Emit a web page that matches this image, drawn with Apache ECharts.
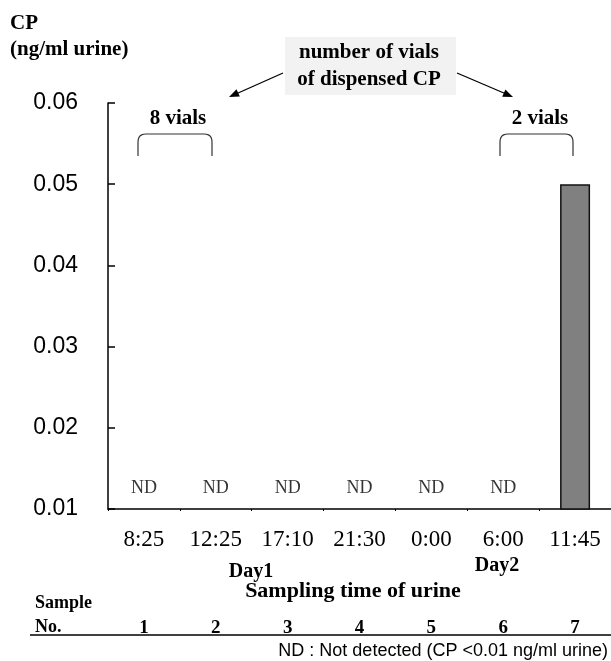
<!DOCTYPE html>
<html>
<head>
<meta charset="utf-8">
<script src="https://cdn.jsdelivr.net/npm/echarts@6/dist/echarts.min.js"></script>
<style>html,body{margin:0;padding:0;background:#fff;}#c{width:611px;height:661px;}</style>
</head>
<body>
<div id="c"></div>
<script>
// Data
var times = ['8:25', '12:25', '17:10', '21:30', '0:00', '6:00', '11:45'];
var sampleNos = ['1', '2', '3', '4', '5', '6', '7'];
var cpValues = [null, null, null, null, null, null, 0.05];
var detected = [false, false, false, false, false, false, true];
var yTicks = [0.01, 0.02, 0.03, 0.04, 0.05, 0.06];

var SERIF = 'Liberation Serif, Times New Roman, serif';
var SANS = 'Liberation Sans, Arial, sans-serif';

var ndData = [];
for (var i = 0; i < times.length; i++) {
  if (!detected[i]) ndData.push([times[i], yTicks[0]]);
}

function bracket(x1, x2, yTop, yBot, r) {
  var pts = [[x1, yBot], [x1, yTop + r]];
  var n = 6, k, t;
  for (k = 1; k <= n; k++) {
    t = k / n;
    pts.push([
      (1 - t) * (1 - t) * x1 + 2 * (1 - t) * t * x1 + t * t * (x1 + r),
      (1 - t) * (1 - t) * (yTop + r) + 2 * (1 - t) * t * yTop + t * t * yTop
    ]);
  }
  pts.push([x2 - r, yTop]);
  for (k = 1; k <= n; k++) {
    t = k / n;
    pts.push([
      (1 - t) * (1 - t) * (x2 - r) + 2 * (1 - t) * t * x2 + t * t * x2,
      (1 - t) * (1 - t) * yTop + 2 * (1 - t) * t * yTop + t * t * (yTop + r)
    ]);
  }
  pts.push([x2, yBot]);
  return pts;
}

var chart = echarts.init(document.getElementById('c'), null, {renderer: 'canvas'});
chart.setOption({
  animation: false,
  backgroundColor: '#ffffff',
  grid: {left: 108, right: -1, top: 103, bottom: 152, containLabel: false},
  xAxis: [{
    type: 'category',
    data: times,
    axisLine: {lineStyle: {color: '#000', width: 1.5}},
    axisTick: {show: true, length: 2, lineStyle: {color: '#000'}},
    axisLabel: {fontFamily: SERIF, fontSize: 23, color: '#000', margin: 19, interval: 0}
  }, {
    type: 'category',
    data: sampleNos,
    position: 'bottom',
    offset: 110,
    axisLine: {show: false},
    axisTick: {show: false},
    axisLabel: {fontFamily: SERIF, fontSize: 19, fontWeight: 'bold', color: '#000', margin: 0, interval: 0}
  }],
  yAxis: {
    type: 'value',
    min: yTicks[0],
    max: yTicks[yTicks.length - 1],
    interval: 0.01,
    splitLine: {show: false},
    axisLine: {show: true, lineStyle: {color: '#000', width: 1.5}},
    axisTick: {show: true, inside: true, length: 7, lineStyle: {color: '#000', width: 1.5}},
    axisLabel: {fontFamily: SANS, fontSize: 23, color: '#000', margin: 30,
      formatter: function (v) { return v.toFixed(2); }}
  },
  series: [{
    type: 'bar',
    data: cpValues,
    barWidth: 30,
    itemStyle: {color: '#808080', borderColor: '#111', borderWidth: 1.5}
  }, {
    type: 'scatter',
    data: ndData,
    symbolSize: 0,
    label: {show: true, position: 'top', distance: 12, formatter: 'ND',
      fontFamily: SERIF, fontSize: 18, color: '#000'}
  }],
  graphic: [
    {type: 'text', x: 10, y: 24, style: {text: 'CP', font: 'bold 21px ' + SERIF, fill: '#000', textVerticalAlign: 'middle'}},
    {type: 'text', x: 10, y: 50, style: {text: '(ng/ml urine)', font: 'bold 21px ' + SERIF, fill: '#000', textVerticalAlign: 'middle'}},
    {type: 'rect', shape: {x: 285, y: 37, width: 171, height: 58}, style: {fill: '#f2f2f2'}},
    {type: 'text', x: 369, y: 53, style: {text: 'number of vials', font: 'bold 21px ' + SERIF, fill: '#000', textAlign: 'center', textVerticalAlign: 'middle'}},
    {type: 'text', x: 369, y: 80, style: {text: 'of dispensed CP', font: 'bold 21px ' + SERIF, fill: '#000', textAlign: 'center', textVerticalAlign: 'middle'}},
    {type: 'line', shape: {x1: 283, y1: 73, x2: 237, y2: 93.5}, style: {stroke: '#000', lineWidth: 1.3}},
    {type: 'polygon', shape: {points: [[229, 97], [239.8, 96.6], [236.5, 89.3]]}, style: {fill: '#000'}},
    {type: 'line', shape: {x1: 457, y1: 73, x2: 505, y2: 93.5}, style: {stroke: '#000', lineWidth: 1.3}},
    {type: 'polygon', shape: {points: [[513, 97], [502.2, 96.7], [505.4, 89.4]]}, style: {fill: '#000'}},
    {type: 'text', x: 178, y: 119, style: {text: '8 vials', font: 'bold 21px ' + SERIF, fill: '#000', textAlign: 'center', textVerticalAlign: 'middle'}},
    {type: 'text', x: 540, y: 119, style: {text: '2 vials', font: 'bold 21px ' + SERIF, fill: '#000', textAlign: 'center', textVerticalAlign: 'middle'}},
    {type: 'polyline', shape: {points: bracket(138, 212, 134, 156, 8)}, style: {stroke: '#333', lineWidth: 1.2, fill: null}},
    {type: 'polyline', shape: {points: bracket(500, 573, 134, 156, 8)}, style: {stroke: '#333', lineWidth: 1.2, fill: null}},
    {type: 'text', x: 251, y: 572, style: {text: 'Day1', font: 'bold 20px ' + SERIF, fill: '#000', textAlign: 'center', textVerticalAlign: 'middle'}},
    {type: 'text', x: 497, y: 566, style: {text: 'Day2', font: 'bold 20px ' + SERIF, fill: '#000', textAlign: 'center', textVerticalAlign: 'middle'}},
    {type: 'text', x: 353, y: 591, style: {text: 'Sampling time of urine', font: 'bold 22px ' + SERIF, fill: '#000', textAlign: 'center', textVerticalAlign: 'middle'}},
    {type: 'text', x: 35, y: 603, style: {text: 'Sample', font: 'bold 18px ' + SERIF, fill: '#000', textVerticalAlign: 'middle'}},
    {type: 'text', x: 35, y: 627, style: {text: 'No.', font: 'bold 18px ' + SERIF, fill: '#000', textVerticalAlign: 'middle'}},
    {type: 'line', shape: {x1: 30, y1: 635, x2: 611, y2: 635}, style: {stroke: '#000', lineWidth: 1.3}},
    {type: 'text', x: 608, y: 651, style: {text: 'ND : Not detected (CP <0.01 ng/ml urine)', font: '18px ' + SANS, fill: '#000', textAlign: 'right', textVerticalAlign: 'middle'}}
  ]
});
</script>
</body>
</html>
